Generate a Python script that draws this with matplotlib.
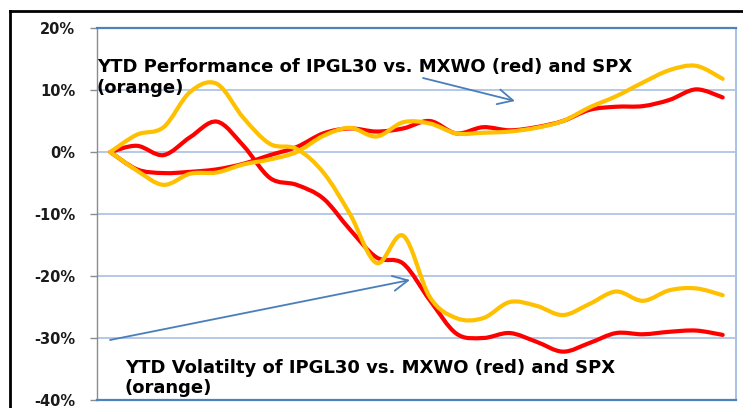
import numpy as np
import matplotlib
matplotlib.use("Agg")
import matplotlib.pyplot as plt
from matplotlib.path import Path
from matplotlib.patches import PathPatch
from matplotlib.lines import Line2D

# ---------------- data (percent) ----------------
periods = list(range(24))
perf_ipgl30_vs_mxwo = [0, -2.8, -3.4, -3.2, -2.8, -1.9, -0.5, 0.8, 3.0, 3.8, 3.3, 3.8,
                       5.0, 3.0, 4.0, 3.5, 4.0, 5.0, 6.8, 7.3, 7.4, 8.4, 10.1, 8.8]
vol_ipgl30_vs_mxwo = [0, 1.0, -0.5, 2.4, 4.9, 1.0, -4.2, -5.3, -7.5, -12.5, -17.0, -18.0,
                      -23.9, -29.3, -30.0, -29.2, -30.6, -32.2, -30.8, -29.2, -29.4, -29.0, -28.8, -29.5]
perf_ipgl30_vs_spx = [0, -3.0, -5.3, -3.5, -3.3, -2.0, -1.2, 0.0, 2.6, 3.9, 2.5, 4.8,
                      4.6, 3.0, 3.1, 3.3, 3.9, 5.0, 7.2, 9.0, 11.2, 13.2, 13.9, 11.8]
vol_ipgl30_vs_spx = [0, 2.8, 4.0, 9.7, 11.0, 5.5, 1.3, 0.5, -3.3, -10.0, -17.9, -13.5,
                     -23.4, -26.8, -26.8, -24.2, -24.8, -26.3, -24.5, -22.5, -24.0, -22.3, -22.0, -23.1]
ytick_values = [-40, -30, -20, -10, 0, 10, 20]
ytick_labels = ["-40%", "-30%", "-20%", "-10%", "0%", "10%", "20%"]
perf_note = ["YTD Performance of IPGL30 vs. MXWO (red) and SPX", "(orange)"]
vol_note = ["YTD Volatilty of IPGL30 vs. MXWO (red) and SPX", "(orange)"]

RED = "#FF0000"
ORANGE = "#FFC000"
ARROW = "#4A7EBB"

W, H = 743, 408
fig = plt.figure(figsize=(W / 100, H / 100), dpi=100)
ax = fig.add_axes([97 / W, 1 - 400 / H, (736 - 97) / W, (400 - 28) / H])


def fx(x, y):
    return (x / W, 1 - y / H)


def smooth_path(xs, ys):
    xs = np.asarray(xs, float)
    ys = np.asarray(ys, float)
    n = len(xs)
    verts = [(xs[0], ys[0])]
    codes = [Path.MOVETO]
    for i in range(n - 1):
        i0 = max(i - 1, 0)
        i3 = min(i + 2, n - 1)
        c1 = (xs[i] + (xs[i + 1] - xs[i0]) / 6, ys[i] + (ys[i + 1] - ys[i0]) / 6)
        c2 = (xs[i + 1] - (xs[i3] - xs[i]) / 6, ys[i + 1] - (ys[i3] - ys[i]) / 6)
        verts += [c1, c2, (xs[i + 1], ys[i + 1])]
        codes += [Path.CURVE4] * 3
    return Path(verts, codes)


for series, color in [(perf_ipgl30_vs_mxwo, RED), (vol_ipgl30_vs_mxwo, RED),
                      (perf_ipgl30_vs_spx, ORANGE), (vol_ipgl30_vs_spx, ORANGE)]:
    patch = PathPatch(smooth_path(periods, series), fill=False, edgecolor=color,
                      lw=3.0, capstyle="round", joinstyle="round", zorder=3)
    ax.add_patch(patch)

ax.set_xlim(-0.5, len(periods) - 0.5)
ax.set_ylim(-40, 20)
ax.set_xticks([])
ax.set_yticks(ytick_values)
ax.set_yticklabels(ytick_labels, fontsize=10.5, fontweight="bold", color="#1a1a1a")
ax.tick_params(axis="y", direction="out", length=5, width=1, color="#8c8c8c", pad=10.5)
ax.yaxis.grid(True, color="#b4c9e8", lw=1.4)
ax.set_axisbelow(True)
ax.spines["top"].set_color("#4F81BD")
ax.spines["top"].set_linewidth(1.6)
ax.spines["bottom"].set_color("#4F81BD")
ax.spines["bottom"].set_linewidth(1.6)
ax.spines["right"].set_color("#a9c1e3")
ax.spines["right"].set_linewidth(1.4)
ax.spines["left"].set_color("#8c8c8c")
ax.spines["left"].set_linewidth(1.0)

# outer black frame
fig.add_artist(Line2D([10 / W, 1.0], [1 - 10.5 / H] * 2, color="black", lw=2))
fig.add_artist(Line2D([10 / W] * 2, [0.0, 1 - 10.5 / H], color="black", lw=2))

# annotations
tkw = dict(fontsize=13, fontweight="bold", color="black", va="baseline", ha="left", zorder=5)
fig.text(*fx(97, 72), perf_note[0], **tkw)
fig.text(*fx(97, 93), perf_note[1], **tkw)
fig.text(*fx(125, 373), vol_note[0], **tkw)
fig.text(*fx(125, 393), vol_note[1], **tkw)

akw = dict(arrowstyle="->,head_length=0.9,head_width=0.45", color=ARROW, lw=1.3,
           shrinkA=0, shrinkB=0, mutation_scale=12)
ax.annotate("", xy=fx(515, 101), xycoords="figure fraction",
            xytext=fx(423, 78), textcoords="figure fraction", arrowprops=akw)
ax.annotate("", xy=fx(410, 280), xycoords="figure fraction",
            xytext=fx(110, 340), textcoords="figure fraction", arrowprops=akw)

fig.savefig("out.png", dpi=100)
